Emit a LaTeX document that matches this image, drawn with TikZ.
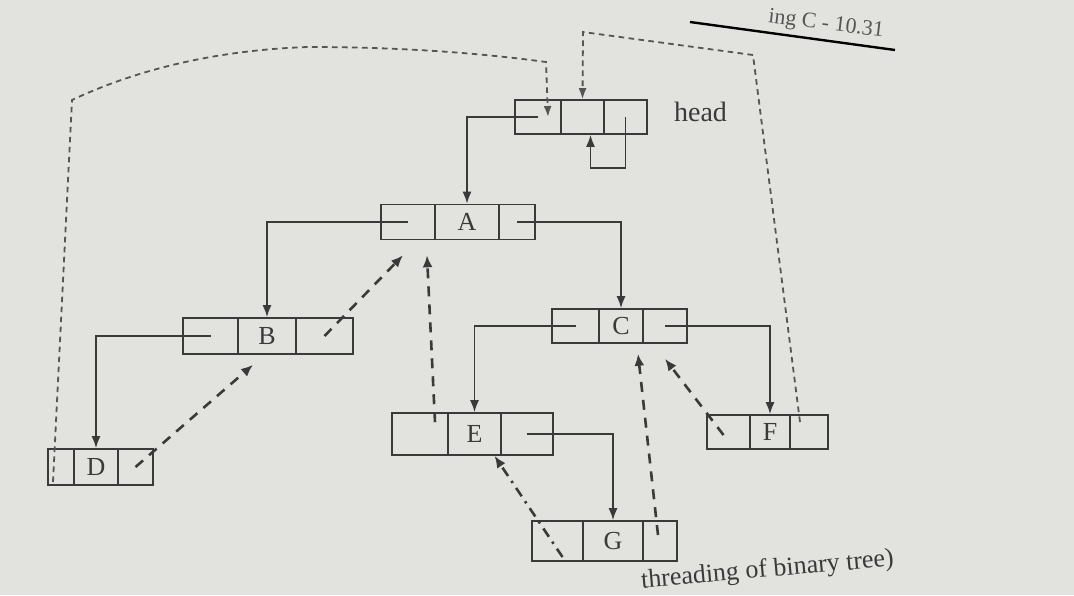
\documentclass[tikz,border=0pt]{standalone}
\usepackage{fontspec}
\setmainfont{Liberation Serif}
\usetikzlibrary{arrows.meta,calc}

\definecolor{paper}{RGB}{226,226,222}
\definecolor{ink}{RGB}{58,58,58}
\definecolor{thin}{RGB}{85,85,85}

\tikzset{
  x=0.5pt, y=-0.5pt,
  cell/.style={draw=ink, line width=0.8pt, inner sep=0pt, text=ink,
               font=\fontsize{13}{13}\selectfont},
  link/.style={draw=ink, line width=0.9pt, -{Latex[length=6pt,width=4.5pt]}},
  thread/.style={draw=ink, line width=1.3pt, dash pattern=on 5pt off 4pt,
                 -{Latex[length=6pt,width=5pt]}},
  chainthread/.style={draw=ink, line width=1.3pt,
                 dash pattern=on 5pt off 3pt on 1.2pt off 3pt,
                 -{Latex[length=6pt,width=5pt]}},
  finethread/.style={draw=thin, line width=0.9pt, dash pattern=on 2.8pt off 2.2pt,
                 -{Latex[length=5.5pt,width=4pt]}},
}

\begin{document}
\begin{tikzpicture}
  % page
  \fill[paper] (0,0) rectangle (1074,595);
  \useasboundingbox (0,0) rectangle (1074,595);

  % running head of the page
  \draw[thin, line width=1.2pt] (690,22) -- (895,50);
  \node[rotate=-7, text=thin, font=\fontsize{11}{11}\selectfont] (hdr) at (826,25) {ing C - 10.31};

  % header node
  \node[cell, minimum width=23pt,   minimum height=17pt] (Hl) at (538,117) {};
  \node[cell, minimum width=21.5pt, minimum height=17pt] (Hm) at (582.5,117) {};
  \node[cell, minimum width=21.5pt, minimum height=17pt] (Hr) at (625.5,117) {};
  \node[text=ink, font=\fontsize{14}{14}\selectfont, anchor=west] (hlabel) at (667,112) {head};

  % A
  \node[cell, minimum width=27pt, minimum height=17.5pt] (Al) at (408,222) {};
  \node[cell, minimum width=32pt, minimum height=17.5pt] (Am) at (467,222) {A};
  \node[cell, minimum width=18pt, minimum height=17.5pt] (Ar) at (517,222) {};

  % B
  \node[cell, minimum width=27.5pt, minimum height=18pt] (Bl) at (210.5,336) {};
  \node[cell, minimum width=29pt,   minimum height=18pt] (Bm) at (267,336) {B};
  \node[cell, minimum width=28.5pt, minimum height=18pt] (Br) at (324.5,336) {};

  % C
  \node[cell, minimum width=23.5pt, minimum height=17pt] (Cl) at (575.5,326) {};
  \node[cell, minimum width=22pt,   minimum height=17pt] (Cm) at (621,326) {C};
  \node[cell, minimum width=22pt,   minimum height=17pt] (Cr) at (665,326) {};

  % D
  \node[cell, minimum width=13pt,   minimum height=18pt] (Dl) at (61,467) {};
  \node[cell, minimum width=22pt,   minimum height=18pt] (Dm) at (96,467) {D};
  \node[cell, minimum width=17.5pt, minimum height=18pt] (Dr) at (135.5,467) {};

  % E
  \node[cell, minimum width=28pt,   minimum height=21pt] (El) at (420,434) {};
  \node[cell, minimum width=26.5pt, minimum height=21pt] (Em) at (474.5,434) {E};
  \node[cell, minimum width=26pt,   minimum height=21pt] (Er) at (527,434) {};

  % F
  \node[cell, minimum width=21.5pt, minimum height=17pt] (Fl) at (728.5,432) {};
  \node[cell, minimum width=20pt,   minimum height=17pt] (Fm) at (770,432) {F};
  \node[cell, minimum width=19pt,   minimum height=17pt] (Fr) at (809,432) {};

  % G
  \node[cell, minimum width=25.5pt, minimum height=20pt] (Gl) at (557.5,541) {};
  \node[cell, minimum width=30pt,   minimum height=20pt] (Gm) at (613,541) {G};
  \node[cell, minimum width=17pt,   minimum height=20pt] (Gr) at (660,541) {};

  % child links
  \draw[link] (Hl.center) -| (Am.north);
  \draw[link] (Hr.center) -- ++(0,51) -| ([xshift=4pt]Hm.south);
  \draw[link] (Al.center) -| (Bm.north);
  \draw[link] (Ar.center) -| (Cm.north);
  \draw[link] (Bl.center) -| (Dm.north);
  \draw[link] (Cl.center) -| (Em.north);
  \draw[link] (Cr.center) -| (Fm.north);
  \draw[link] (Er.center) -| (Gm.north);

  % threads to in-order neighbours
  \draw[thread] (Br.center) -- ($(Al.south)+(-5,15)$);
  \draw[thread] (Dr.center) -- ($(Bm.south)+(-14,10)$);
  \draw[thread] ($(El.north)+(15,10)$) -- ($(Al.south)+(19,15)$);
  \draw[chainthread] ($(Gl.center)+(5,16)$) -- ($(Em.south)+(20,0)$);
  \draw[thread] ($(Gr.center)+(-2,-6)$) -- ($(Cm.south)+(17,10)$);
  \draw[thread] ($(Fl.center)+(-5,3)$) -- ($(Cr.south)+(0,15)$);

  % threads back to the header node
  \coordinate (rtop) at (753,55);
  \coordinate (mtop) at (583,32);
  \draw[finethread] ($(Fr.center)+(-9,-10)$) -- (rtop) -- (mtop) -- (Hm.north);

  \coordinate (lside) at (72,100);
  \coordinate (lbend) at (546,62);
  \draw[finethread] ($(Dl.center)+(-8,15)$) -- (lside)
      .. controls (140,68) and (220,50) .. (308,47)
      .. controls (400,47) and (480,53) .. (lbend)
      -- ($(Hl.center)+(10,0)$);

  % caption fragment at the foot of the page
  \node[rotate=5, text=ink, font=\fontsize{13}{13}\selectfont, anchor=base] (cap) at (768,577) {threading of binary tree)};
\end{tikzpicture}
\end{document}
